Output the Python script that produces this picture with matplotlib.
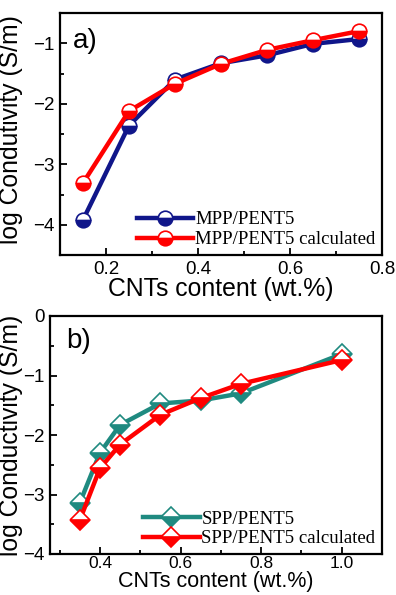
import numpy as np
import matplotlib
matplotlib.use("Agg")
import matplotlib.pyplot as plt
from matplotlib.ticker import MultipleLocator

# ------------------------------
# Data
# ------------------------------
cnt_a = [0.15, 0.25, 0.35, 0.45, 0.55, 0.65, 0.75]
mpp_meas = [-3.92, -2.36, -1.60, -1.33, -1.20, -1.01, -0.93]
mpp_calc = [-3.31, -2.12, -1.67, -1.34, -1.11, -0.95, -0.80]

cnt_b = [0.35, 0.40, 0.45, 0.55, 0.65, 0.75, 1.00]
spp_meas = [-3.14, -2.30, -1.83, -1.47, -1.42, -1.30, -0.64]
spp_calc = [-3.43, -2.56, -2.16, -1.66, -1.38, -1.14, -0.74]

NAVY = "#10168a"
RED = "#ff0000"
TEAL = "#1f8a80"

plt.rcParams['font.family'] = ['Liberation Sans', 'DejaVu Sans']

fig = plt.figure(figsize=(3.96, 5.95), dpi=100)
ax_a = fig.add_axes([60/396, 1-255/595, 322/396, 242/595])
ax_b = fig.add_axes([50/396, 1-554/595, 332/396, 238/595])

legend_font = {'family': 'Liberation Serif', 'size': 13.5}


def style_axes(ax, pad=4):
    for sp in ax.spines.values():
        sp.set_linewidth(1.6)
    ax.tick_params(which='both', direction='in', labelsize=13.5, width=1.3,
                   top=False, right=False, pad=pad)
    ax.tick_params(which='major', length=5)
    ax.tick_params(which='minor', length=3)


# ------------------------------
# Panel a
# ------------------------------
ax_a.plot(cnt_a, mpp_meas, '-o', color=NAVY, lw=3.2, ms=10.5,
          fillstyle='bottom', markerfacecoloralt='white', mec=NAVY, mew=1.2,
          label='MPP/PENT5')
ax_a.plot(cnt_a, mpp_calc, '-o', color=RED, lw=3.2, ms=10.5,
          fillstyle='bottom', markerfacecoloralt='white', mec=RED, mew=1.2,
          label='MPP/PENT5 calculated')
ax_a.set_xlim(0.1, 0.8)
ax_a.set_ylim(-4.5, -0.5)
ax_a.xaxis.set_major_locator(MultipleLocator(0.2))
ax_a.xaxis.set_minor_locator(MultipleLocator(0.1))
ax_a.yaxis.set_major_locator(MultipleLocator(1))
ax_a.yaxis.set_minor_locator(MultipleLocator(0.5))
ax_a.set_xticks([0.2, 0.4, 0.6, 0.8], ['0.2', '0.4', '0.6', '0.8'])
style_axes(ax_a)
ax_a.set_xlabel('CNTs content (wt.%)', fontsize=17.8)
ax_a.set_ylabel('log Condutivity (S/m)', fontsize=17.8)
ax_a.xaxis.set_label_coords(0.5, -0.09)
ax_a.yaxis.set_label_coords(-0.115, 0.52)
ax_a.text(0.04, 0.94, 'a)', transform=ax_a.transAxes, fontsize=20,
          va='top', ha='left')
ax_a.legend(loc='lower right', frameon=False, prop=legend_font,
            handlelength=3.0, handletextpad=0.1, borderpad=0.2,
            labelspacing=0.15, borderaxespad=0.15)

# ------------------------------
# Panel b
# ------------------------------
ax_b.plot(cnt_b, spp_meas, '-D', color=TEAL, lw=3.2, ms=10,
          fillstyle='bottom', markerfacecoloralt='white', mec=TEAL, mew=1.2,
          label='SPP/PENT5')
ax_b.plot(cnt_b, spp_calc, '-D', color=RED, lw=3.2, ms=10,
          fillstyle='bottom', markerfacecoloralt='white', mec=RED, mew=1.2,
          label='SPP/PENT5 calculated')
ax_b.set_xlim(0.276, 1.1)
ax_b.set_ylim(-4, 0)
ax_b.xaxis.set_major_locator(MultipleLocator(0.2))
ax_b.xaxis.set_minor_locator(MultipleLocator(0.1))
ax_b.yaxis.set_major_locator(MultipleLocator(1))
ax_b.yaxis.set_minor_locator(MultipleLocator(0.5))
style_axes(ax_b)
ax_b.tick_params(axis='x', pad=1.5, labelsize=12.5)
ax_b.set_xlabel('CNTs content (wt.%)', fontsize=15.5)
ax_b.set_ylabel('log Conductivity (S/m)', fontsize=17.8)
ax_b.xaxis.set_label_coords(0.5, -0.07)
ax_b.yaxis.set_label_coords(-0.08, 0.5)
ax_b.text(0.05, 0.95, 'b)', transform=ax_b.transAxes, fontsize=20,
          va='top', ha='left')
ax_b.legend(loc='lower right', frameon=False, prop=legend_font,
            handlelength=3.0, handletextpad=0.1, borderpad=0.2,
            labelspacing=0.15, borderaxespad=0.15)

fig.savefig('out.png', dpi=100)
